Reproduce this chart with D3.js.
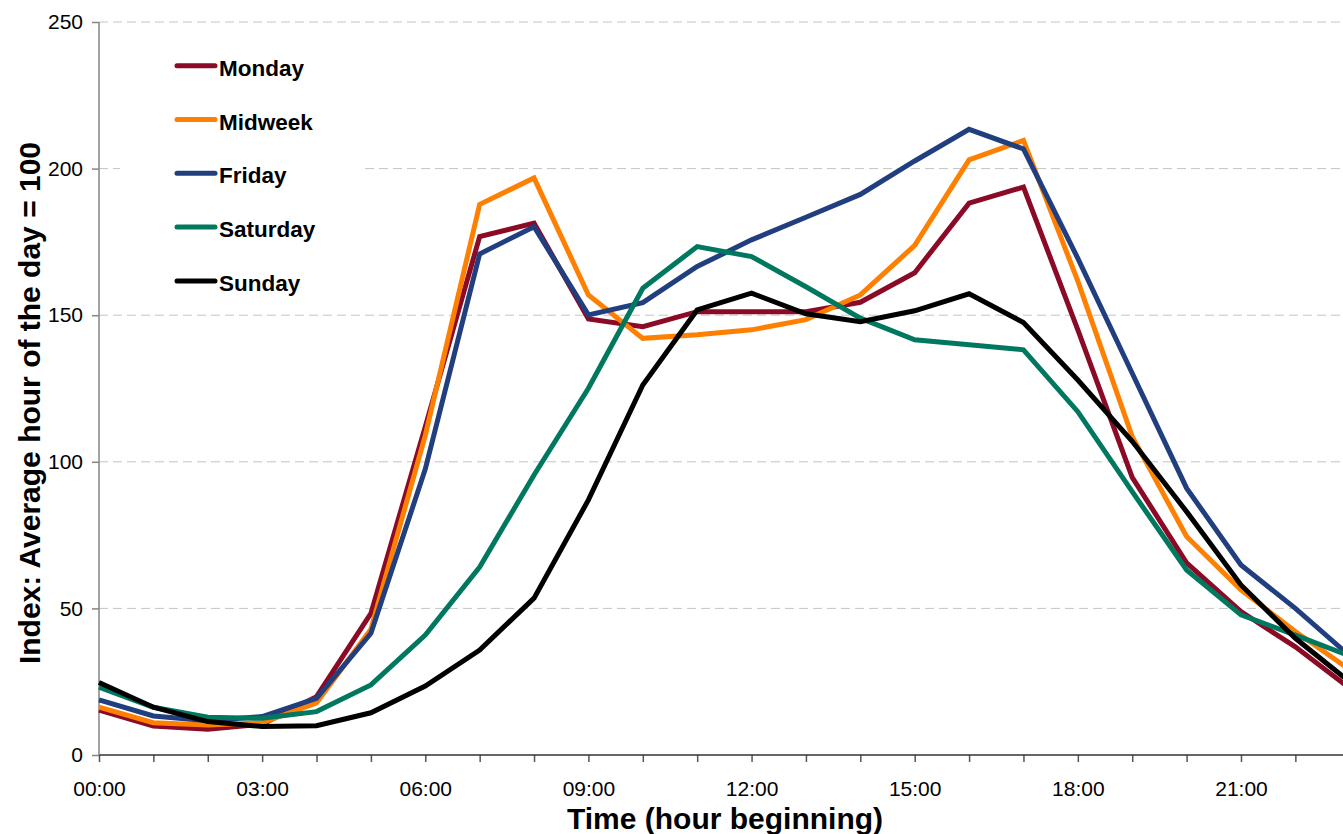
<!DOCTYPE html>
<html>
<head>
<meta charset="utf-8">
<script src="https://cdn.jsdelivr.net/npm/d3@7"></script>
<style>
  html, body { margin: 0; padding: 0; background: #fff; }
  svg { display: block; }
  text { font-family: Arial, "Liberation Sans", sans-serif; fill: #000; }
</style>
</head>
<body>
<svg id="chart" width="1343" height="834"></svg>
<script>
// Hour of day (0 = 00:00 ... 23 = 23:00)
const hours = d3.range(0, 24);

// Hourly index per day type (average hour of the day = 100)
const monday   = [15.3, 9.9, 8.8, 10.5, 19.9, 48.3, 112, 176.8, 181.4, 148.7, 146.1, 151.2, 151.2, 151.2, 154.4, 164.5, 188.2, 193.7, 145, 94.7, 65.5, 48.9, 36.9, 22.8];
const midweek  = [16.3, 11, 10.2, 11, 17.8, 42.9, 109, 187.8, 196.8, 156.9, 142.1, 143.3, 145, 148.5, 156.9, 173.8, 203, 209.6, 161.6, 108.6, 74.5, 56.3, 42.1, 29.1];
const friday   = [18.8, 13.3, 11.7, 13.1, 19.3, 41.5, 97.5, 170.9, 180.2, 150.1, 154.3, 166.6, 175.7, 183.4, 191.2, 202.6, 213.4, 206.7, 169.4, 130.2, 91, 64.8, 50, 33.8];
const saturday = [23.1, 16.3, 12.9, 12.5, 14.8, 23.9, 40.9, 64.1, 95.5, 125.1, 159.2, 173.4, 170, 159.7, 149, 141.6, 139.9, 138.2, 117.1, 89.8, 63.1, 47.8, 40.9, 33.8];
const sunday   = [24.7, 16.3, 11.4, 9.7, 10, 14.4, 23.5, 35.8, 53.5, 87, 126.2, 151.8, 157.5, 150.5, 147.8, 151.5, 157.3, 147.5, 127.9, 107, 83, 58, 39.8, 24.9];

const seriesNames  = ["Monday", "Midweek", "Friday", "Saturday", "Sunday"];
const seriesValues = [monday, midweek, friday, saturday, sunday];
const seriesColors = ["#8b0a26", "#ff8000", "#213f7f", "#00785f", "#000000"];

// Axis ticks
const xTickHours  = [0, 3, 6, 9, 12, 15, 18, 21];
const xTickLabels = ["00:00", "03:00", "06:00", "09:00", "12:00", "15:00", "18:00", "21:00"];
const yTicks      = [0, 50, 100, 150, 200, 250];

const svg = d3.select("#chart");

const x = d3.scaleLinear().domain([0, 23]).range([99, 99 + 23 * 54.38]);
const y = d3.scaleLinear().domain([0, 250]).range([755, 22]);

// Dashed horizontal gridlines
svg.append("g")
  .selectAll("line")
  .data(yTicks.filter(t => t > 0))
  .join("line")
  .attr("x1", x(0)).attr("x2", 1343)
  .attr("y1", d => y(d)).attr("y2", d => y(d))
  .attr("stroke", "#c4c4c4")
  .attr("stroke-width", 1)
  .attr("stroke-dasharray", "9,5");

// Y axis
const yAxis = svg.append("g")
  .attr("transform", `translate(${x(0)},0)`)
  .call(d3.axisLeft(y).tickValues(yTicks).tickSize(7).tickPadding(9).tickFormat(d3.format("d")));
yAxis.selectAll(".tick line").attr("stroke", "#858585").attr("stroke-width", 1.5);
yAxis.selectAll(".tick text")
  .attr("font-size", 21)
  .attr("font-family", "Arial, 'Liberation Sans', sans-serif")
  .attr("fill", "#000");

// X axis with a tick every hour and a label every three hours
const xAxis = svg.append("g")
  .attr("transform", `translate(0,${y(0)})`)
  .call(d3.axisBottom(x).tickValues(hours).tickSize(7).tickPadding(19)
    .tickFormat(h => {
      const i = xTickHours.indexOf(h);
      return i >= 0 ? xTickLabels[i] : "";
    }));
xAxis.selectAll(".tick line").attr("stroke", "#555").attr("stroke-width", 1.5);
xAxis.selectAll(".tick text")
  .attr("font-size", 21)
  .attr("font-family", "Arial, 'Liberation Sans', sans-serif")
  .attr("fill", "#000");

// Plain axis lines (no end caps)
xAxis.select(".domain").remove();
yAxis.select(".domain").remove();
svg.append("line")
  .attr("x1", x(0)).attr("x2", 1343)
  .attr("y1", y(0)).attr("y2", y(0))
  .attr("stroke", "#333").attr("stroke-width", 1.5);
svg.append("line")
  .attr("x1", x(0)).attr("x2", x(0))
  .attr("y1", y(250)).attr("y2", y(0))
  .attr("stroke", "#858585").attr("stroke-width", 1.5);

// Legend background hides gridlines behind it
svg.append("rect")
  .attr("x", 120).attr("y", 36)
  .attr("width", 244).attr("height", 266)
  .attr("fill", "#fff");

// Series lines
const line = d3.line()
  .x((d, i) => x(hours[i]))
  .y(d => y(d));

svg.append("g")
  .selectAll("path")
  .data(seriesValues)
  .join("path")
  .attr("d", line)
  .attr("fill", "none")
  .attr("stroke", (d, i) => seriesColors[i])
  .attr("stroke-width", 5)
  .attr("stroke-linejoin", "miter");

// Legend
const legend = svg.append("g");
const legendItems = legend.selectAll("g")
  .data(seriesNames)
  .join("g")
  .attr("transform", (d, i) => `translate(177,${65.7 + i * 53.8})`);
legendItems.append("line")
  .attr("x1", 0).attr("x2", 38)
  .attr("y1", 0).attr("y2", 0)
  .attr("stroke", (d, i) => seriesColors[i])
  .attr("stroke-width", 5)
  .attr("stroke-linecap", "round");
legendItems.append("text")
  .attr("x", 42).attr("y", 10)
  .attr("font-size", 22.5)
  .attr("font-weight", "bold")
  .text(d => d);

// Axis titles
svg.append("text")
  .attr("x", (x(0) + 1343) / 2 + 4)
  .attr("y", 829)
  .attr("text-anchor", "middle")
  .attr("font-size", 30)
  .attr("font-weight", "bold")
  .text("Time (hour beginning)");

svg.append("text")
  .attr("transform", "translate(40,403) rotate(-90)")
  .attr("text-anchor", "middle")
  .attr("font-size", 30)
  .attr("font-weight", "bold")
  .text("Index: Average hour of the day = 100");
</script>
</body>
</html>
